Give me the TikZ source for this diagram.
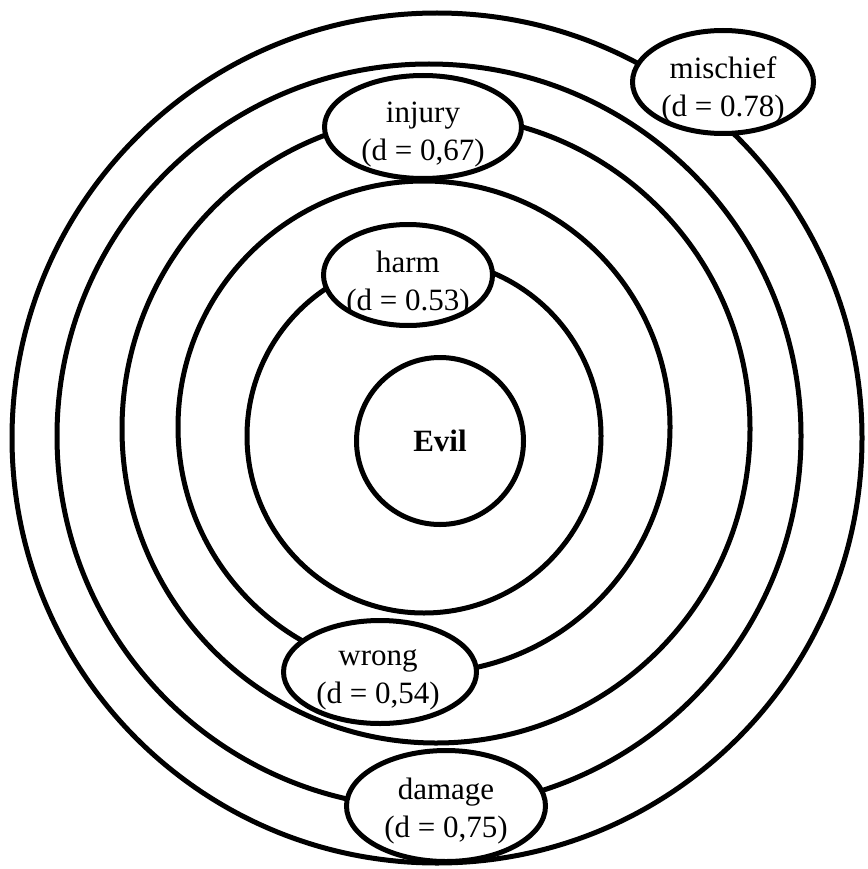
\documentclass[tikz,border=0pt]{standalone}
\usepackage{fontspec}
\setmainfont{Liberation Serif}
\usetikzlibrary{shapes.geometric}
\tikzset{
  ring/.style={line width=5pt, draw=black},
  wordbox/.style={ellipse, draw=black, line width=5pt, fill=white, inner sep=0pt},
  wordtext/.style={inner sep=0pt, align=center, font=\fontsize{31}{38}\selectfont},
}
\begin{document}
\begin{tikzpicture}[x=1pt,y=-1pt]
\useasboundingbox (0,0) rectangle (867,869);
% rings
\draw[ring] (437,438) circle[radius=425];
\draw[ring] (429,436) circle[radius=372];
\draw[ring] (436,429) circle[radius=314];
\draw[ring] (424,427) circle[radius=246];
\draw[ring] (424,436) circle[radius=177];
% centre
\node[circle, draw=black, line width=5pt, minimum size=167pt, inner sep=0pt,
  font=\fontsize{31}{38}\selectfont\bfseries] (evil) at (440,441) {Evil};
% labels
\node[wordbox, minimum width=197pt, minimum height=103pt] (injury) at (423,127) {};
\node[wordtext] (injuryt) at ([yshift=-8pt]injury.center) {injury\\(d = 0,67)};
\node[wordbox, minimum width=169pt, minimum height=101pt] (harm) at (408,275) {};
\node[wordtext] (harmt) at ([yshift=-9pt]harm.center) {harm\\(d = 0.53)};
\node[wordbox, minimum width=193pt, minimum height=103pt] (wrong) at (380,672) {};
\node[wordtext] (wrongt) at ([yshift=-8pt,xshift=-2pt]wrong.center) {wrong\\(d = 0,54)};
\node[wordbox, minimum width=199pt, minimum height=111pt] (damage) at (446,806) {};
\node[wordtext] (damaget) at ([yshift=-5pt]damage.center) {damage\\(d = 0,75)};
\node[wordbox, minimum width=181pt, minimum height=103pt] (mischief) at (723,82) {};
\node[wordtext] (mischieft) at ([yshift=-8pt]mischief.center) {mischief\\(d = 0.78)};
\end{tikzpicture}
\end{document}
